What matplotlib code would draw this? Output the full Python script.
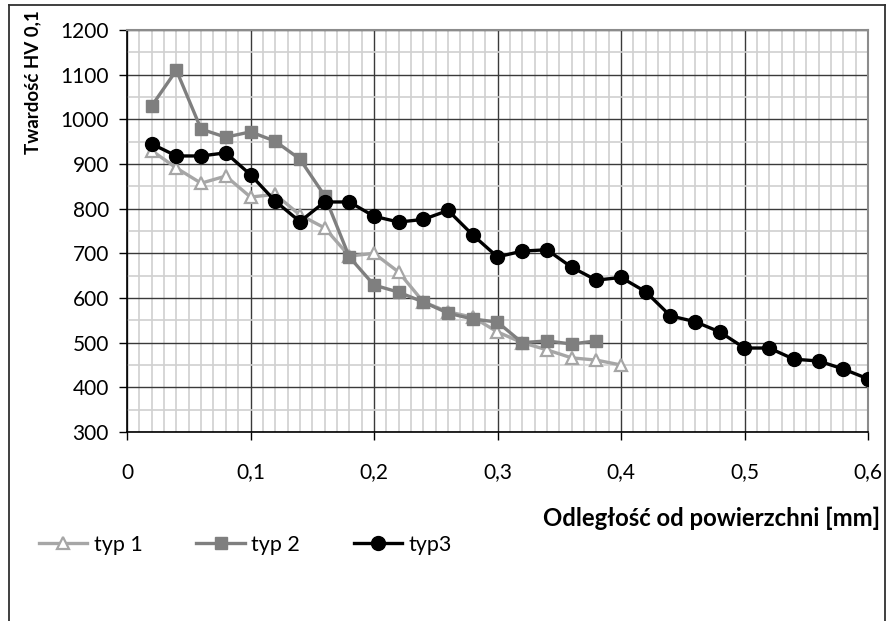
import matplotlib.pyplot as plt
from matplotlib.lines import Line2D
from matplotlib.ticker import MultipleLocator, FuncFormatter
import numpy as np

plt.rcParams['font.family'] = ['Lato', 'DejaVu Sans']

# distance from surface [mm]
x1 = [0.02, 0.04, 0.06, 0.08, 0.10, 0.12, 0.14, 0.16, 0.18, 0.20,
      0.22, 0.24, 0.26, 0.28, 0.30, 0.32, 0.34, 0.36, 0.38, 0.40]
typ1 = [930, 891, 857, 873, 826, 832, 786, 757, 694, 700,
        658, 591, 569, 557, 524, 500, 484, 466, 461, 450]

x2 = [0.02, 0.04, 0.06, 0.08, 0.10, 0.12, 0.14, 0.16, 0.18, 0.20,
      0.22, 0.24, 0.26, 0.28, 0.30, 0.32, 0.34, 0.36, 0.38]
typ2 = [1030, 1110, 978, 960, 972, 951, 911, 829, 692, 629,
        613, 591, 566, 553, 546, 500, 504, 497, 504]

x3 = [0.02, 0.04, 0.06, 0.08, 0.10, 0.12, 0.14, 0.16, 0.18, 0.20,
      0.22, 0.24, 0.26, 0.28, 0.30, 0.32, 0.34, 0.36, 0.38, 0.40,
      0.42, 0.44, 0.46, 0.48, 0.50, 0.52, 0.54, 0.56, 0.58, 0.60]
typ3 = [945, 918, 918, 925, 876, 817, 771, 815, 815, 783,
        770, 776, 796, 741, 692, 705, 708, 669, 640, 646,
        614, 560, 547, 524, 488, 488, 463, 459, 441, 419]

labels = ['typ 1', 'typ 2', 'typ3']

W, H = 887, 621
fig = plt.figure(figsize=(W / 100, H / 100), dpi=100)
ax = fig.add_axes([127 / W, 1 - 432 / H, (868 - 127) / W, (432 - 30) / H])

ax.plot(x1, typ1, color='#a6a6a6', lw=2.4, marker='^', ms=9,
        mfc='white', mec='#a6a6a6', mew=1.6, label=labels[0], zorder=3)
ax.plot(x2, typ2, color='#7f7f7f', lw=2.4, marker='s', ms=8.5,
        mfc='#7f7f7f', mec='#7f7f7f', label=labels[1], zorder=4)
ax.plot(x3, typ3, color='black', lw=2.4, marker='o', ms=10,
        mfc='black', mec='black', label=labels[2], zorder=5)

ax.set_xlim(0, 0.6)
ax.set_ylim(300, 1200)
ax.xaxis.set_major_locator(MultipleLocator(0.1))
ax.xaxis.set_minor_locator(MultipleLocator(0.01))
ax.yaxis.set_major_locator(MultipleLocator(100))
ax.yaxis.set_minor_locator(MultipleLocator(50))
ax.xaxis.set_major_formatter(FuncFormatter(
    lambda v, p: '0' if abs(v) < 1e-9 else ('%g' % round(v, 2)).replace('.', ',')))

ax.grid(which='minor', color='#d0d0d0', lw=1.2, zorder=0)
ax.grid(which='major', color='#3a3a3a', lw=1.0, zorder=1)
ax.set_axisbelow(True)

ax.tick_params(which='major', direction='out', length=6, width=1,
               labelsize=15, color='black')
ax.tick_params(axis='x', pad=16)
ax.tick_params(axis='y', pad=7)
ax.tick_params(which='minor', length=0)

for s in ['left', 'bottom']:
    ax.spines[s].set_color('black')
    ax.spines[s].set_linewidth(1.2)
for s in ['top', 'right']:
    ax.spines[s].set_color('#8c8c8c')
    ax.spines[s].set_linewidth(1.5)

fig.text(33 / W, 1 - 10 / H, 'Twardość HV 0,1', rotation=90,
         ha='center', va='top', fontsize=13.5, fontweight='bold')
fig.text(880 / W, 1 - 518 / H, 'Odległość od powierzchni [mm]',
         ha='right', va='center', fontsize=17.2, fontweight='bold')

fig.legend(loc='center left', bbox_to_anchor=(39 / W, 1 - 545 / H), ncol=3,
           frameon=False, fontsize=15.5, handlelength=2.25, handletextpad=0.3,
           columnspacing=2.5, borderaxespad=0, borderpad=0)

# chart area border (bottom edge is cut off in the original)
fig.add_artist(Line2D([9 / W, 9 / W], [0, 1 - 5 / H], color='#303030', lw=1.3))
fig.add_artist(Line2D([885 / W, 885 / W], [0, 1 - 5 / H], color='#303030', lw=1.3))
fig.add_artist(Line2D([9 / W, 885 / W], [1 - 5 / H, 1 - 5 / H], color='#303030', lw=1.3))

fig.savefig('out.png', dpi=100)
